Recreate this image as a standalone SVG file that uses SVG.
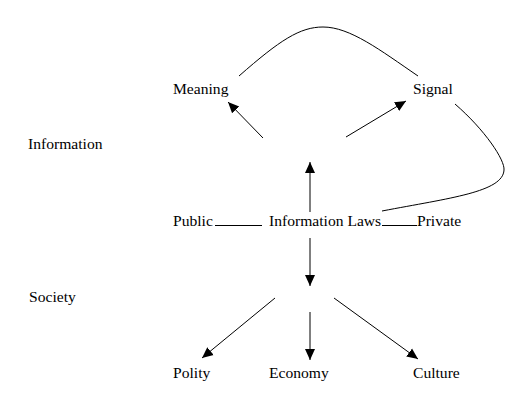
<svg xmlns="http://www.w3.org/2000/svg" width="531" height="409" viewBox="0 0 531 409">
<style>
text{font-family:"Liberation Serif","Times New Roman",serif;font-size:15.6px;fill:#000}
.c{fill:none;stroke:#000;stroke-width:1}
.a{fill:none;stroke:#000;stroke-width:1;marker-end:url(#ah)}
</style>
<defs>
<marker id="ah" markerUnits="userSpaceOnUse" markerWidth="12" markerHeight="12" refX="11" refY="5" orient="auto" viewBox="0 0 12 10">
<path d="M0,0 L11,5 L0,10 Z" fill="#000"/>
</marker>
</defs>
<rect width="531" height="409" fill="#fff"/>
<g id="connectors">
<path class="c" d="M239,76 C280,40 300,27 323,27 C350,27 380,50 418,76"/>
<path class="c" d="M455,104 C485,130 505,160 504,170 C503,192 450,198 382,211"/>
<line class="a" x1="263" y1="138" x2="228" y2="102"/>
<line class="a" x1="346" y1="137" x2="406" y2="101"/>
<line class="a" x1="310" y1="212" x2="310" y2="162"/>
<line class="c" x1="215" y1="225.5" x2="262" y2="225.5"/>
<line class="c" x1="382" y1="225.5" x2="417" y2="225.5"/>
<line class="a" x1="310" y1="238" x2="310" y2="286"/>
<line class="a" x1="275" y1="298" x2="202" y2="358"/>
<line class="a" x1="310" y1="312" x2="310" y2="360"/>
<line class="a" x1="334" y1="298" x2="418" y2="359"/>
</g>
<g id="meaning"><text x="173" y="94">Meaning</text></g>
<g id="signal"><text x="413" y="94">Signal</text></g>
<g id="information"><text x="28" y="149">Information</text></g>
<g id="public"><text x="173" y="226">Public</text></g>
<g id="information-laws"><text x="269" y="226">Information Laws</text></g>
<g id="private"><text x="417" y="226">Private</text></g>
<g id="society"><text x="29" y="302">Society</text></g>
<g id="polity"><text x="173" y="378">Polity</text></g>
<g id="economy"><text x="269" y="378">Economy</text></g>
<g id="culture"><text x="413" y="378">Culture</text></g>
</svg>
